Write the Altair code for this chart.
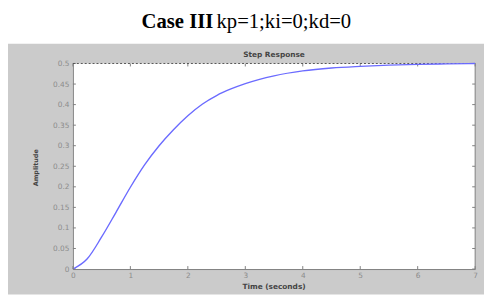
import altair as alt
import pandas as pd

# Step response
time_s = [0, 0.25, 0.5, 0.75, 1.0, 1.25, 1.5, 1.75, 2.0, 2.25, 2.5, 2.75, 3.0, 3.5, 4.0, 4.5, 5.0, 5.5, 6.0, 6.5, 7.0]
amplitude = [0, 0.025, 0.078, 0.138, 0.199, 0.254, 0.300, 0.339, 0.373, 0.401, 0.422, 0.438, 0.451,
             0.470, 0.482, 0.489, 0.493, 0.496, 0.498, 0.499, 0.5]

x_ticks = [0, 1, 2, 3, 4, 5, 6, 7]
y_ticks = [0, 0.05, 0.1, 0.15, 0.2, 0.25, 0.3, 0.35, 0.4, 0.45, 0.5]
steady_state = [0.5]

title_bold = "Case III"
title_rest = "kp=1;ki=0;kd=0"
plot_title = "Step Response"
x_title = "Time (seconds)"
y_title = "Amplitude"

W, H = 409, 209
AX = "#808080"
LBL = "#8c8c8c"

df = pd.DataFrame({"t": time_s, "a": amplitude})
xt = pd.DataFrame({"t": x_ticks})
yt = pd.DataFrame({"a": y_ticks})
ss = pd.DataFrame({"a": steady_state})

xs = alt.Scale(domain=[0, 7], nice=False)
ys = alt.Scale(domain=[0, 0.5], nice=False)

x_axis = alt.Axis(values=x_ticks, format="~g", ticks=False, grid=False, title=None, domainColor=AX,
                  labelColor=LBL, labelFont="DejaVu Sans", labelFontSize=7.5, labelPadding=3,
                  labelFlush=False, labelOverlap=False, zindex=1)
y_axis = alt.Axis(values=y_ticks, format="~g", ticks=False, grid=False, title=None, domainColor=AX,
                  labelColor=LBL, labelFont="DejaVu Sans", labelFontSize=7.5, labelPadding=4,
                  labelFlush=False, labelOverlap=False, zindex=1)

one = pd.DataFrame({"k": [0]})

bg = alt.Chart(one).mark_rect(color="#cbcbcb").encode(
    x=alt.value(-66), x2=alt.value(W + 9), y=alt.value(-20), y2=alt.value(H + 26))
plot_bg = alt.Chart(one).mark_rect(color="white").encode(
    x=alt.value(0), x2=alt.value(W), y=alt.value(0), y2=alt.value(H))

right_border = alt.Chart(one).mark_rule(color=AX, strokeWidth=1).encode(
    x=alt.value(W), y=alt.value(0), y2=alt.value(H))

left_ticks = alt.Chart(yt).mark_rule(color=AX).encode(
    y=alt.Y("a:Q", scale=ys, axis=y_axis), x=alt.value(0), x2=alt.value(3))
right_ticks = alt.Chart(yt).mark_rule(color=AX).encode(
    y=alt.Y("a:Q", scale=ys, axis=y_axis), x=alt.value(W - 3), x2=alt.value(W))
bottom_ticks = alt.Chart(xt).mark_rule(color=AX).encode(
    x=alt.X("t:Q", scale=xs, axis=x_axis), y=alt.value(H - 3), y2=alt.value(H))
top_ticks = alt.Chart(xt).mark_rule(color=AX).encode(
    x=alt.X("t:Q", scale=xs, axis=x_axis), y=alt.value(0), y2=alt.value(3))

ss_line = alt.Chart(ss).mark_rule(color="#555555", strokeDash=[2, 2], strokeWidth=1).encode(
    y=alt.Y("a:Q", scale=ys, axis=y_axis), x=alt.value(0), x2=alt.value(W))

curve = alt.Chart(df).mark_line(color="#6b6bff", strokeWidth=1.4, interpolate="monotone").encode(
    x=alt.X("t:Q", scale=xs, axis=x_axis), y=alt.Y("a:Q", scale=ys, axis=y_axis))

def txt(s, x, y, **kw):
    return alt.Chart(pd.DataFrame({"s": [s]})).mark_text(**kw).encode(
        text="s:N", x=alt.value(x), y=alt.value(y))

t_bold = txt(title_bold, 142.7, -36, font="Liberation Serif", fontSize=21, fontWeight="bold",
             align="right", baseline="alphabetic", color="black")
t_rest = txt(title_rest, 146, -36, font="Liberation Serif", fontSize=21,
             align="left", baseline="alphabetic", color="black")
t_plot = txt(plot_title, 204.5, -8.5, font="DejaVu Sans", fontSize=7.5, fontWeight="bold",
             align="center", baseline="middle", color="#444444")
t_x = txt(x_title, 204.5, 227.5, font="DejaVu Sans", fontSize=7.5, fontWeight="bold",
          align="center", baseline="middle", color="#444444")
t_y = txt(y_title, -38, 106, font="DejaVu Sans", fontSize=6.5, fontWeight="bold", angle=270,
          align="center", baseline="middle", color="#444444")

chart = alt.layer(
    bg, plot_bg, left_ticks, right_ticks, bottom_ticks, top_ticks, right_border,
    ss_line, curve, t_bold, t_rest, t_plot, t_x, t_y
).properties(
    width=W, height=H, autosize="none",
    padding={"left": 66, "top": 54, "right": 9, "bottom": 26},
    background="white"
).configure_view(stroke=None, fill=None)

chart.save("out.html", embed_options={"renderer": "svg", "actions": False})
